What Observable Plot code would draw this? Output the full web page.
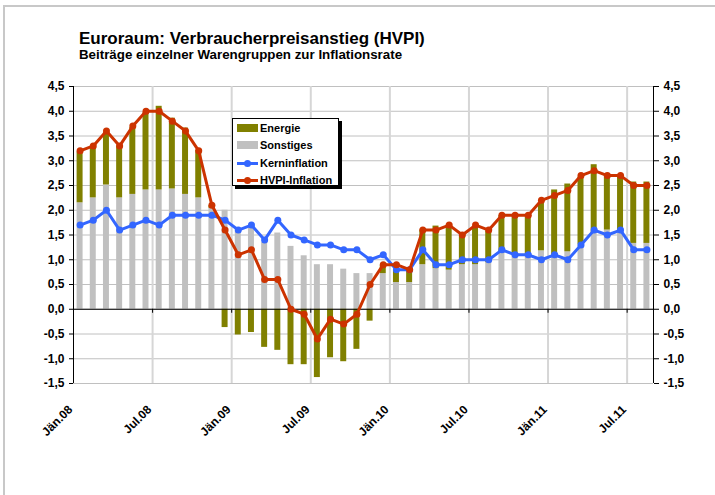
<!DOCTYPE html>
<html><head><meta charset="utf-8">
<script src="https://cdn.jsdelivr.net/npm/d3@7"></script>
<script src="https://cdn.jsdelivr.net/npm/@observablehq/plot@0.6"></script>
<style>
body{margin:0;background:#fff;font-family:"Liberation Sans",Arial,sans-serif;}
#wrap{position:relative;width:715px;height:495px;overflow:hidden;}
#frame{position:absolute;left:3px;top:5px;right:0;bottom:0;border-left:2px solid #c8c8c8;border-top:2px solid #c8c8c8;pointer-events:none}
#head{height:70px;position:relative}
#title{position:absolute;left:79px;top:29.5px;font-weight:bold;font-size:17px;line-height:1;color:#000;white-space:nowrap}
#sub{position:absolute;left:79px;top:47.5px;font-weight:bold;font-size:13px;line-height:1;color:#000;white-space:nowrap;transform:scaleX(1.025);transform-origin:0 0}
#legend{position:absolute;left:232px;top:118px;width:105px;height:66px;border:1px solid #000;background:#fff;box-shadow:3px 3px 0 #000;font-weight:bold;font-size:11px}
.row{position:absolute;left:4px;height:14px;line-height:14px;white-space:nowrap}
.sw{position:absolute;left:0;top:3px;width:21px;height:8px}
.ln{position:absolute;left:0;top:6px;width:21px;height:3px}
.dt{position:absolute;left:7px;top:4px;width:7px;height:7px;border-radius:50%}
.lab{position:absolute;left:23px;top:0}
</style></head>
<body>
<div id="wrap">
  <div id="head">
    <div id="title">Euroraum: Verbraucherpreisanstieg (HVPI)</div>
    <div id="sub">Beiträge einzelner Warengruppen zur Inflationsrate</div>
  </div>
  <div id="chart"></div>
  <div id="legend"></div>
  <div id="frame"></div>
</div>
<script>
// Monthly data, Jan 2008 – Aug 2011
const monate = ["Jan08","Feb08","Mär08","Apr08","Mai08","Jun08","Jul08","Aug08","Sep08","Okt08","Nov08","Dez08",
  "Jan09","Feb09","Mär09","Apr09","Mai09","Jun09","Jul09","Aug09","Sep09","Okt09","Nov09","Dez09",
  "Jan10","Feb10","Mär10","Apr10","Mai10","Jun10","Jul10","Aug10","Sep10","Okt10","Nov10","Dez10",
  "Jan11","Feb11","Mär11","Apr11","Mai11","Jun11","Jul11","Aug11"];
const energie = [1.03,1.03,1.06,1.05,1.35,1.56,1.69,1.43,1.34,0.96,0.05,-0.37,
  -0.52,-0.47,-0.77,-0.83,-1.12,-1.12,-1.38,-0.98,-1.06,-0.81,-0.24,0.17,
  0.25,0.25,0.70,0.86,0.91,0.60,0.77,0.64,0.75,0.79,0.79,0.97,
  1.33,1.37,1.36,1.37,1.09,1.14,1.24,1.24];
const sonstiges = [2.15,2.25,2.51,2.25,2.32,2.41,2.41,2.43,2.32,2.25,2.04,2.00,
  1.58,1.64,1.35,1.54,1.27,1.08,0.90,0.90,0.81,0.72,0.72,0.72,
  0.54,0.54,0.90,0.82,0.79,0.90,0.90,0.94,1.14,1.10,1.10,1.18,
  1.08,1.16,1.31,1.55,1.60,1.55,1.33,1.33];
const kerninflation = [1.7,1.8,2.0,1.6,1.7,1.8,1.7,1.9,1.9,1.9,1.9,1.8,
  1.6,1.7,1.4,1.8,1.5,1.4,1.3,1.3,1.2,1.2,1.0,1.1,
  0.8,0.8,1.2,0.9,0.9,1.0,1.0,1.0,1.2,1.1,1.1,1.0,
  1.1,1.0,1.3,1.6,1.5,1.6,1.2,1.2];
const hvpi = [3.2,3.3,3.6,3.3,3.7,4.0,4.0,3.8,3.6,3.2,2.1,1.6,
  1.1,1.2,0.6,0.6,0.0,-0.1,-0.6,-0.2,-0.3,-0.1,0.5,0.9,
  0.9,0.8,1.6,1.6,1.7,1.5,1.7,1.6,1.9,1.9,1.9,2.2,
  2.3,2.4,2.7,2.8,2.7,2.7,2.5,2.5];
const xTickPos = [0,6,12,18,24,30,36,42];
const xTickLabels = ["Jän.08","Jul.08","Jän.09","Jul.09","Jän.10","Jul.10","Jän.11","Jul.11"];
const yTicks = [-1.5,-1,-0.5,0,0.5,1,1.5,2,2.5,3,3.5,4,4.5];

const cOlive = "#808000", cGray = "#c0c0c0", cBlue = "#3366ff", cRed = "#cc3300";

const data = monate.map((m,i)=>({i, m, e: energie[i], s: sonstiges[i], k: kerninflation[i], h: hvpi[i]}));
const fmt = d => d3.format(".1f")(d).replace(".", ",").replace("−","-");

const chart = Plot.plot({
  width: 715, height: 425,
  marginTop: 16, marginBottom: 112, marginLeft: 73, marginRight: 62,
  style: {fontFamily: "Liberation Sans, Arial, sans-serif", fontSize: "12px", fontWeight: "bold", color: "#000", background: "transparent", overflow: "visible"},
  x: {type: "linear", domain: [0, monate.length]},
  y: {domain: [-1.5, 4.5]},
  marks: [
    Plot.gridY(yTicks, {stroke: "#c0c0c0", strokeOpacity: 1, strokeWidth: 1}),
    Plot.ruleX(xTickPos.slice(1), {stroke: "#d6d6d6", strokeWidth: 2}),
    Plot.rect(data, {x1: d=>d.i, x2: d=>d.i+1, y1: 0, y2: d=>d.s, fill: cGray, insetLeft: 3.6, insetRight: 3.6}),
    Plot.rect(data, {x1: d=>d.i, x2: d=>d.i+1, y1: d=>d.e>=0 ? d.s : 0, y2: d=>d.e>=0 ? d.s+d.e : d.e, fill: cOlive, insetLeft: 3.6, insetRight: 3.6}),
    Plot.ruleY([0], {stroke: "#000", strokeWidth: 1}),
    Plot.ruleX(xTickPos.slice(1), {y1: 0, y2: 0, insetBottom: -4, stroke: "#000"}),
    Plot.ruleX([0, monate.length], {y1: -1.5, y2: 4.5, stroke: "#000"}),
    Plot.line(data, {x: d=>d.i+0.5, y: "k", stroke: cBlue, strokeWidth: 3}),
    Plot.dot(data, {x: d=>d.i+0.5, y: "k", fill: cBlue, r: 3.5}),
    Plot.line(data, {x: d=>d.i+0.5, y: "h", stroke: cRed, strokeWidth: 3}),
    Plot.dot(data, {x: d=>d.i+0.5, y: "h", fill: cRed, r: 3.5}),
    Plot.axisY({anchor: "left", ticks: yTicks, tickFormat: fmt, tickSize: 4, tickPadding: 5, stroke: "#000"}),
    Plot.axisY({anchor: "right", ticks: yTicks, tickFormat: fmt, tickSize: 5, tickPadding: 5, stroke: "#000"}),
    Plot.axisX({anchor: "bottom", ticks: xTickPos, tickFormat: d => xTickLabels[xTickPos.indexOf(d)], tickSize: 0, tickPadding: 24, dx: -3, tickRotate: -45})
  ]
});
chart.querySelectorAll("text").forEach(t => t.setAttribute("fill", "#000"));
document.getElementById("chart").appendChild(chart);

const legendItems = [
  {name: "Energie", type: "bar", color: cOlive},
  {name: "Sonstiges", type: "bar", color: cGray},
  {name: "Kerninflation", type: "line", color: cBlue},
  {name: "HVPI-Inflation", type: "line", color: cRed}
];
const lg = document.getElementById("legend");
legendItems.forEach((it, j) => {
  const row = document.createElement("div");
  row.className = "row";
  row.style.top = (2 + j*17.3) + "px";
  if (it.type === "bar") {
    row.innerHTML = `<div class="sw" style="background:${it.color}"></div>`;
  } else {
    row.innerHTML = `<div class="ln" style="background:${it.color}"></div><div class="dt" style="background:${it.color}"></div>`;
  }
  row.innerHTML += `<span class="lab">${it.name}</span>`;
  lg.appendChild(row);
});
</script>
</body></html>
